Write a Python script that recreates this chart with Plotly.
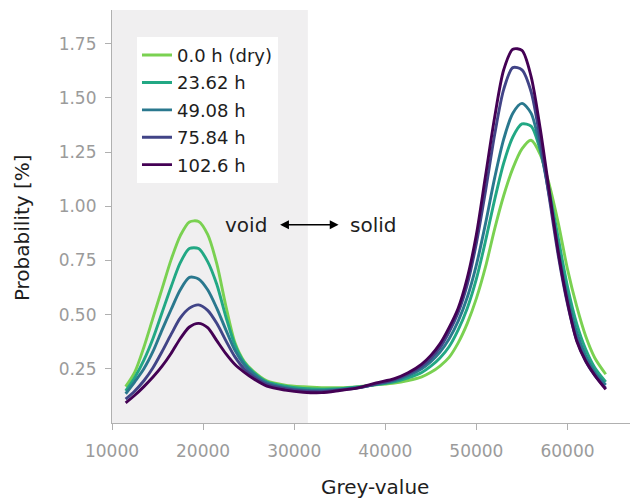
import plotly.graph_objects as go

grey_value = [11500, 12500, 13500, 14500, 15500, 16500, 17500, 18500, 19500, 20500,
              21500, 22500, 23500, 24500, 25500, 27000, 29000, 31000, 33000, 35000,
              37000, 39000, 41000, 42500, 44000, 45000, 46000, 47000, 48000, 49000,
              50000, 51000, 52000, 53000, 54000, 55000, 56000, 57000, 58000, 59000,
              60000, 61000, 62000, 63000, 64200]

p_0h = [0.168, 0.235, 0.35, 0.485, 0.62, 0.755, 0.865, 0.928, 0.93, 0.87,
        0.735, 0.54, 0.37, 0.285, 0.24, 0.195, 0.175, 0.167, 0.163, 0.163,
        0.168, 0.176, 0.184, 0.196, 0.213, 0.234, 0.263, 0.303, 0.37, 0.46,
        0.575, 0.72, 0.895, 1.05, 1.175, 1.265, 1.305, 1.24, 1.10, 0.92,
        0.71, 0.54, 0.40, 0.30, 0.225]

p_23h = [0.148, 0.21, 0.29, 0.39, 0.51, 0.63, 0.74, 0.805, 0.805, 0.745,
         0.64, 0.49, 0.36, 0.28, 0.235, 0.19, 0.17, 0.16, 0.156, 0.158,
         0.166, 0.177, 0.19, 0.208, 0.233, 0.262, 0.30, 0.352, 0.43, 0.53,
         0.665, 0.84, 1.03, 1.20, 1.32, 1.38, 1.37, 1.26, 1.07, 0.85,
         0.63, 0.46, 0.34, 0.255, 0.19]

p_49h = [0.135, 0.19, 0.25, 0.33, 0.43, 0.525, 0.615, 0.672, 0.665, 0.615,
         0.53, 0.43, 0.335, 0.27, 0.228, 0.185, 0.163, 0.153, 0.15, 0.155,
         0.163, 0.179, 0.196, 0.219, 0.25, 0.283, 0.327, 0.388, 0.47, 0.58,
         0.73, 0.92, 1.13, 1.31, 1.43, 1.475, 1.43, 1.27, 1.05, 0.80,
         0.585, 0.42, 0.31, 0.235, 0.175]

p_75h = [0.11, 0.148, 0.195, 0.255, 0.33, 0.41, 0.485, 0.53, 0.545, 0.52,
         0.46, 0.38, 0.305, 0.25, 0.215, 0.178, 0.158, 0.148, 0.145, 0.152,
         0.162, 0.18, 0.20, 0.226, 0.262, 0.298, 0.348, 0.42, 0.51, 0.64,
         0.83, 1.07, 1.33, 1.54, 1.64, 1.63, 1.53, 1.31, 1.04, 0.77,
         0.55, 0.385, 0.285, 0.22, 0.16]

p_102h = [0.093, 0.128, 0.168, 0.212, 0.262, 0.322, 0.39, 0.443, 0.46, 0.44,
          0.38, 0.32, 0.27, 0.235, 0.205, 0.17, 0.152, 0.142, 0.14, 0.15,
          0.162, 0.185, 0.205, 0.232, 0.272, 0.312, 0.365, 0.44, 0.53, 0.67,
          0.87, 1.14, 1.41, 1.63, 1.725, 1.72, 1.60, 1.36, 1.07, 0.785,
          0.557, 0.38, 0.286, 0.22, 0.155]

series_names = ["0.0 h (dry)", "23.62 h", "49.08 h", "75.84 h", "102.6 h"]
series_values = [p_0h, p_23h, p_49h, p_75h, p_102h]
series_colors = ["#7ad151", "#22a884", "#2a788e", "#414487", "#440154"]

x_ticks = [10000, 20000, 30000, 40000, 50000, 60000]
y_ticks = [0.25, 0.50, 0.75, 1.00, 1.25, 1.50, 1.75]
void_limit = 31500

FONT = "DejaVu Sans"
TICK_GREY = "#9b9b9b"
AXIS_GREY = "#b0b0b0"
TEXT_DARK = "#1e1e1e"

fig = go.Figure()

fig.add_shape(type="rect", xref="x", yref="paper", x0=10000, x1=void_limit,
              y0=0, y1=1, fillcolor="#f0eff0", line_width=0, layer="below")

for i, (name, vals, col) in enumerate(zip(series_names, series_values, series_colors)):
    fig.add_trace(go.Scatter(
        x=grey_value, y=vals, mode="lines", name=name,
        line=dict(color=col, width=2.9, shape="spline", smoothing=0.8),
        legendgroup=f"g{i}",
    ))

fig.add_annotation(x=34870, y=0.915, ax=28290, ay=0.915, xref="x", yref="y",
                   axref="x", ayref="y", text="", showarrow=True,
                   arrowhead=2, startarrowhead=2, arrowside="end+start",
                   arrowsize=1.1, startarrowsize=1.1, arrowwidth=1.6, arrowcolor="black")
fig.add_annotation(x=24670, y=0.915, xref="x", yref="y", text="void", showarrow=False,
                   font=dict(family=FONT, size=20, color=TEXT_DARK))
fig.add_annotation(x=38700, y=0.915, xref="x", yref="y", text="solid", showarrow=False,
                   font=dict(family=FONT, size=20, color=TEXT_DARK))

# axis titles
fig.add_annotation(x=0.5, y=-0.155, xref="paper", yref="paper", text="Grey-value",
                   showarrow=False, xanchor="center", yanchor="middle",
                   font=dict(family=FONT, size=20, color=TEXT_DARK))
fig.add_annotation(x=-0.171, y=0.472, xref="paper", yref="paper", text="Probability [%]",
                   showarrow=False, xanchor="center", yanchor="middle", textangle=-90,
                   font=dict(family=FONT, size=20, color=TEXT_DARK))

# page body has an 8px margin: figure is 630x490 so the page shows 638x498
fig.update_layout(
    width=630, height=490,
    margin=dict(l=104, r=0, t=2, b=75, autoexpand=False),
    paper_bgcolor="white", plot_bgcolor="white",
    font=dict(family=FONT, size=17, color=TEXT_DARK),
    showlegend=True,
    legend=dict(x=0.0475, y=0.935, xanchor="left", yanchor="top",
                bgcolor="white", borderwidth=0, traceorder="grouped",
                tracegroupgap=1, font=dict(family=FONT, size=18, color=TEXT_DARK)),
)

fig.update_xaxes(
    range=[10000, 67740], tickvals=x_ticks, ticktext=[str(v) for v in x_ticks],
    showgrid=False, zeroline=False, showline=True, linecolor=AXIS_GREY, linewidth=1.2,
    ticks="outside", ticklen=6, tickcolor=AXIS_GREY, tickwidth=1.2,
    tickfont=dict(family=FONT, size=17, color=TICK_GREY), ticklabelstandoff=6,
    automargin=False,
)
fig.update_yaxes(
    range=[0, 1.906], tickvals=y_ticks, ticktext=[f"{v:.2f}" for v in y_ticks],
    showgrid=False, zeroline=False, showline=True, linecolor=AXIS_GREY, linewidth=1.2,
    ticks="outside", ticklen=6, tickcolor=AXIS_GREY, tickwidth=1.2,
    tickfont=dict(family=FONT, size=17, color=TICK_GREY), ticklabelstandoff=5,
    automargin=False,
)

fig.write_html("out.html")
